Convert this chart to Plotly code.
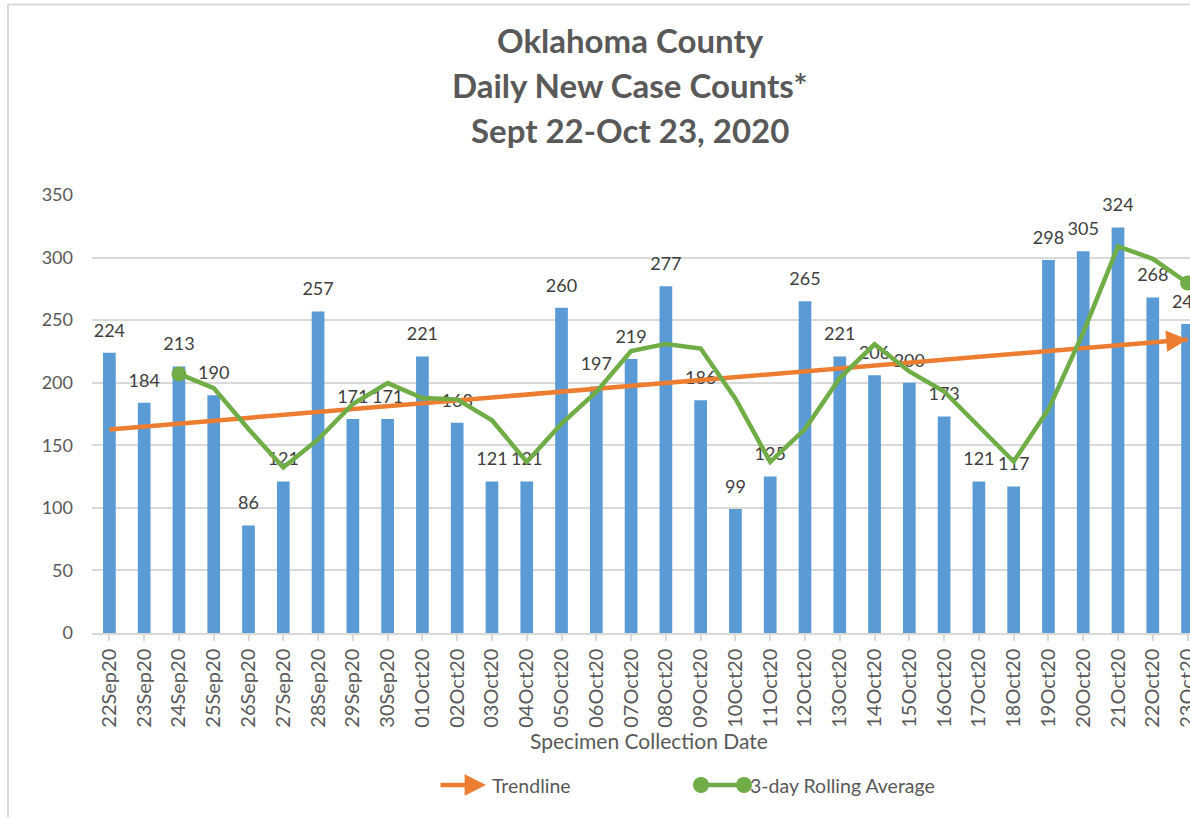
import plotly.graph_objects as go

# ---------------- data ----------------
dates = ["22Sep20", "23Sep20", "24Sep20", "25Sep20", "26Sep20", "27Sep20", "28Sep20",
         "29Sep20", "30Sep20", "01Oct20", "02Oct20", "03Oct20", "04Oct20", "05Oct20",
         "06Oct20", "07Oct20", "08Oct20", "09Oct20", "10Oct20", "11Oct20", "12Oct20",
         "13Oct20", "14Oct20", "15Oct20", "16Oct20", "17Oct20", "18Oct20", "19Oct20",
         "20Oct20", "21Oct20", "22Oct20", "23Oct20"]
daily_cases = [224, 184, 213, 190, 86, 121, 257, 171, 171, 221, 168, 121, 121, 260,
               197, 219, 277, 186, 99, 125, 265, 221, 206, 200, 173, 121, 117, 298,
               305, 324, 268, 247]
rolling_avg = [None, None, 207.0, 195.7, 163.0, 132.3, 154.7, 183.0, 199.7, 187.7,
               186.7, 170.0, 136.7, 167.3, 192.7, 225.3, 231.0, 227.3, 187.3, 136.7,
               163.0, 203.7, 230.7, 209.0, 193.0, 164.7, 137.0, 178.7, 240.0, 309.0,
               299.0, 279.7]
trend_dates = [dates[0], dates[-1]]
trend_values = [162.7, 234.6]
y_ticks = [0, 50, 100, 150, 200, 250, 300, 350]

title_lines = ["Oklahoma County", "Daily New Case Counts*", "Sept 22-Oct 23, 2020"]

# ---------------- style ----------------
W, H = 1190, 817
ML, MR, MT, MB = 92, 0, 195, 184
PW, PH = W - ML - MR, H - MT - MB
FONT = "Lato"
BLUE = "#5b9bd5"
ORANGE = "#ed7d31"
GREEN = "#70ad47"
GRID = "#d9d9d9"
TXT = "#595959"
LBL = "#404040"


def px_x(px):
    return (px - ML) / PW


def px_y(py):
    return (H - MB - py) / PH


idx = list(range(len(dates)))

fig = go.Figure()

fig.add_trace(go.Bar(
    x=idx, y=daily_cases, marker_color=BLUE, marker_line_width=0,
    hoverinfo="skip", showlegend=False,
))

# data labels (placed above the bars via an invisible spacer marker)
fig.add_trace(go.Scatter(
    x=idx, y=daily_cases, mode="markers+text",
    text=[str(v) for v in daily_cases], textposition="top center",
    textfont=dict(family=FONT, size=18, color=LBL),
    marker=dict(size=17, color="rgba(0,0,0,0)"),
    hoverinfo="skip", showlegend=False, cliponaxis=False,
))

# trendline
trend_idx = [dates.index(d) for d in trend_dates]
fig.add_trace(go.Scatter(
    x=trend_idx, y=trend_values, mode="lines",
    line=dict(color=ORANGE, width=4.5),
    hoverinfo="skip", showlegend=False,
))

# rolling average
msize = [0] * len(rolling_avg)
first_valid = next(i for i, v in enumerate(rolling_avg) if v is not None)
msize[first_valid] = 15
msize[-1] = 15
fig.add_trace(go.Scatter(
    x=idx, y=rolling_avg, mode="lines+markers",
    line=dict(color=GREEN, width=4.5),
    marker=dict(size=msize, color=GREEN, opacity=1, line=dict(width=0)),
    hoverinfo="skip", showlegend=False, cliponaxis=False,
))

annotations = []
# trend arrow head
slope = (trend_values[1] - trend_values[0]) / (trend_idx[1] - trend_idx[0])
annotations.append(dict(
    x=trend_idx[1], y=trend_values[1],
    ax=trend_idx[1] - 0.6, ay=trend_values[1] - slope * 0.6,
    xref="x", yref="y", axref="x", ayref="y",
    text="", showarrow=True, arrowhead=2, arrowsize=0.95, arrowwidth=4.5,
    arrowcolor=ORANGE, standoff=0,
))

# title
for line, yc in zip(title_lines, [40, 85, 130]):
    annotations.append(dict(
        x=px_x(630), y=px_y(yc), xref="paper", yref="paper",
        text=f"<b>{line}</b>", showarrow=False, xanchor="center", yanchor="middle",
        font=dict(family=FONT, size=33, color=TXT),
    ))

# x axis title
annotations.append(dict(
    x=px_x(649), y=px_y(740), xref="paper", yref="paper",
    text="Specimen Collection Date", showarrow=False, xanchor="center", yanchor="middle",
    font=dict(family=FONT, size=21, color=TXT),
))

# legend (custom)
LEG_Y = 785
annotations.append(dict(
    x=px_x(486), y=px_y(LEG_Y), xref="paper", yref="paper",
    ax=-47, ay=0, text="", showarrow=True, arrowhead=2, arrowsize=0.95, arrowwidth=4.5,
    arrowcolor=ORANGE, standoff=0,
))
annotations.append(dict(
    x=px_x(490), y=px_y(LEG_Y), xref="paper", yref="paper",
    text="Trendline", showarrow=False, xanchor="left", yanchor="middle",
    font=dict(family=FONT, size=19.5, color=TXT),
))
annotations.append(dict(
    x=px_x(748), y=px_y(LEG_Y), xref="paper", yref="paper",
    text="3-day Rolling Average", showarrow=False, xanchor="left", yanchor="middle",
    font=dict(family=FONT, size=19.5, color=TXT),
))

shapes = []
shapes.append(dict(type="line", xref="paper", yref="paper",
                   x0=px_x(701), x1=px_x(744), y0=px_y(LEG_Y), y1=px_y(LEG_Y),
                   line=dict(color=GREEN, width=4.5), layer="above"))
for cx in (701, 744):
    shapes.append(dict(type="circle", xref="paper", yref="paper",
                       x0=px_x(cx - 8), x1=px_x(cx + 8), y0=px_y(LEG_Y + 8), y1=px_y(LEG_Y - 8),
                       fillcolor=GREEN, line=dict(color=GREEN, width=0), layer="above"))
# chart-area border (left and top)
shapes.append(dict(type="line", xref="paper", yref="paper",
                   x0=px_x(8), x1=px_x(8), y0=px_y(4), y1=px_y(830),
                   line=dict(color=GRID, width=2)))
shapes.append(dict(type="line", xref="paper", yref="paper",
                   x0=px_x(8), x1=px_x(1200), y0=px_y(4.5), y1=px_y(4.5),
                   line=dict(color=GRID, width=2)))

spacing = 34.78
fig.update_layout(
    width=W, height=H,
    margin=dict(l=ML, r=MR, t=MT, b=MB, pad=0, autoexpand=False),
    paper_bgcolor="white", plot_bgcolor="white",
    bargap=0.635,
    showlegend=False,
    annotations=annotations,
    shapes=shapes,
    font=dict(family=FONT, size=18, color=TXT),
)
fig.update_xaxes(
    range=[-0.5, -0.5 + PW / spacing],
    tickmode="array", tickvals=idx, ticktext=dates,
    tickangle=-90, tickfont=dict(family=FONT, size=20, color=TXT),
    ticklabeloverflow="allow", automargin=False,
    showline=True, linecolor=GRID, linewidth=1.5,
    ticks="outside", ticklen=6, tickcolor=GRID, tickwidth=1.5,
    tickson="boundaries", showgrid=False, zeroline=False,
    fixedrange=True,
)
fig.update_yaxes(
    range=[0, 350], tickmode="array", tickvals=y_ticks,
    tickfont=dict(family=FONT, size=18, color=TXT),
    showgrid=True, gridcolor=GRID, gridwidth=1.5, automargin=False,
    zeroline=False, showline=False, ticks="", ticklabelstandoff=18,
    fixedrange=True,
)

fig.write_html(
    "out.html",
    config={"displayModeBar": False},
    post_script="document.body.style.margin='0px';document.body.style.overflow='hidden';",
)
